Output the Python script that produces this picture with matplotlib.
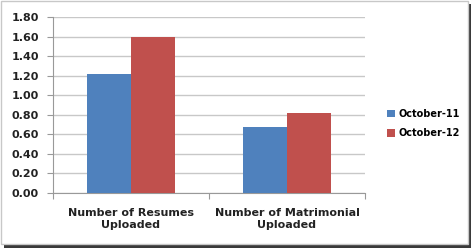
import numpy as np
import matplotlib.pyplot as plt
from matplotlib.patches import Rectangle

categories = ['Number of Resumes\nUploaded', 'Number of Matrimonial\nUploaded']
series_names = ['October-11', 'October-12']
oct11 = [1.22, 0.68]
oct12 = [1.60, 0.82]
colors = ['#4F81BD', '#C0504D']
yticks = [0.0, 0.2, 0.4, 0.6, 0.8, 1.0, 1.2, 1.4, 1.6, 1.8]


def main():
    fig = plt.figure(figsize=(4.72, 2.48), dpi=100)
    fig.patch.set_facecolor('white')

    # picture frame with a drop shadow
    fig.patches.append(Rectangle((4 / 472, 0), 1 - 5 / 472, 1 - 4 / 248, transform=fig.transFigure,
                                 facecolor='#3a3a3a', edgecolor='none', zorder=-3))
    fig.patches.append(Rectangle((0.5 / 472, 4 / 248), 1 - 5 / 472, 1 - 4.5 / 248, transform=fig.transFigure,
                                 facecolor='white', edgecolor='#c8c8c8', linewidth=1.0, zorder=-2))

    ax = fig.add_axes([53 / 472, 1 - 193 / 248, 312 / 472, 176 / 248])
    x = np.arange(len(categories))
    w = 0.28
    ax.bar(x - w / 2, oct11, w, color=colors[0], label=series_names[0], zorder=3)
    ax.bar(x + w / 2, oct12, w, color=colors[1], label=series_names[1], zorder=3)

    ax.set_xlim(-0.5, len(categories) - 0.5)
    ax.set_ylim(0, 1.8)
    ax.set_yticks(yticks)
    ax.set_yticklabels(['{:.2f}'.format(v) for v in yticks], fontsize=8, fontweight='bold', color='#222222')
    ax.yaxis.grid(True, color='#c8c8c8', linewidth=1.0, zorder=0)
    ax.set_axisbelow(True)

    ax.set_xticks([-0.5, 0.5, 1.5])
    ax.set_xticklabels([])
    ax.set_xticks(x, minor=True)
    ax.set_xticklabels(categories, minor=True, fontsize=8, fontweight='bold', color='#222222')
    ax.tick_params(axis='x', which='minor', length=0, pad=11)
    ax.tick_params(axis='x', which='major', length=4, color='#999999')
    ax.tick_params(axis='y', length=4, color='#999999', pad=6)

    for s in ['top', 'right']:
        ax.spines[s].set_visible(False)
    ax.spines['left'].set_color('#999999')
    ax.spines['bottom'].set_color('#999999')

    fig.legend(loc='upper left', bbox_to_anchor=(378 / 472, 1 - 100 / 248), frameon=False,
               prop={'size': 7, 'weight': 'bold'}, handlelength=0.8, handleheight=0.8,
               handletextpad=0.4, labelspacing=1.0)

    fig.savefig('out.png', dpi=100)


if __name__ == '__main__':
    main()
